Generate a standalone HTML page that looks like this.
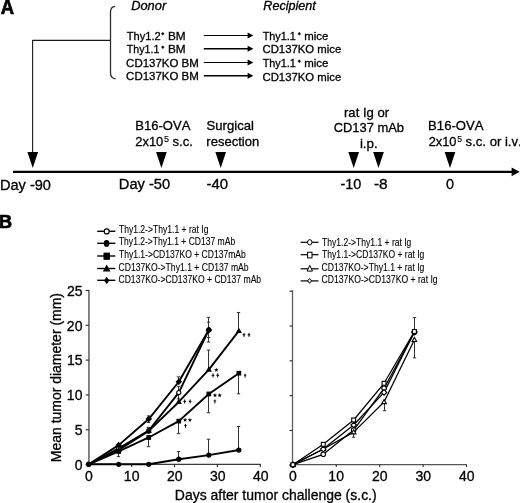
<!DOCTYPE html>
<html><head><meta charset="utf-8"><style>
html,body{margin:0;padding:0;background:#fff;}
svg{display:block;will-change:transform;}
text{font-family:"Liberation Sans",sans-serif;fill:#000;font-kerning:none;stroke:#000;stroke-width:0.3px;}
text.lg{stroke-width:0.1px;}
text.sup{stroke-width:0.1px;}
text.big{stroke-width:0.7px;}
</style></head><body>
<svg width="520" height="503" viewBox="0 0 520 503">
<rect width="520" height="503" fill="#fff"/>
<text x="0.84" y="13.90" font-size="19.5" textLength="13.35" lengthAdjust="spacingAndGlyphs" font-weight="bold" class="big">A</text>
<path d="M32.6 40.4 H110.6 M32.6 40 V153" stroke="#1a1a1a" stroke-width="1.1" fill="none"/>
<path d="M115.2 6.3 Q110.5 6.8 110.5 12 V73 Q110.5 78.2 115.6 78.8" stroke="#2a2a2a" stroke-width="1.25" fill="none"/>
<text x="131.21" y="9.85" font-size="12.2" textLength="34.96" lengthAdjust="spacingAndGlyphs" font-style="italic" >Donor</text>
<text x="263.31" y="9.80" font-size="12.2" textLength="52.55" lengthAdjust="spacingAndGlyphs" font-style="italic" >Recipient</text>
<text x="126.85" y="39.50" font-size="11.3" textLength="33.91" lengthAdjust="spacingAndGlyphs" >Thy1.2</text>
<path d="M161.35 33.70 H164.25 M162.80 32.25 V35.15" stroke="#000" stroke-width="1.2"/>
<text x="167.93" y="39.50" font-size="11.3" textLength="17.74" lengthAdjust="spacingAndGlyphs" >BM</text>
<text x="126.86" y="52.90" font-size="11.3" textLength="32.56" lengthAdjust="spacingAndGlyphs" >Thy1.1</text>
<path d="M161.35 47.20 H164.25 M162.80 45.75 V48.65" stroke="#000" stroke-width="1.2"/>
<text x="167.93" y="52.90" font-size="11.3" textLength="17.74" lengthAdjust="spacingAndGlyphs" >BM</text>
<text x="126.12" y="66.60" font-size="11.3" textLength="72.72" lengthAdjust="spacingAndGlyphs" >CD137KO BM</text>
<text x="126.12" y="80.10" font-size="11.3" textLength="72.72" lengthAdjust="spacingAndGlyphs" >CD137KO BM</text>
<text x="262.66" y="39.60" font-size="11.3" textLength="33.28" lengthAdjust="spacingAndGlyphs" >Thy1.1</text>
<path d="M297.85 33.80 H300.75 M299.30 32.35 V35.25" stroke="#000" stroke-width="1.2"/>
<text x="304.24" y="39.60" font-size="11.3" textLength="24.17" lengthAdjust="spacingAndGlyphs" >mice</text>
<text x="262.52" y="53.00" font-size="11.3" textLength="78.68" lengthAdjust="spacingAndGlyphs" >CD137KO mice</text>
<text x="262.66" y="66.80" font-size="11.3" textLength="33.28" lengthAdjust="spacingAndGlyphs" >Thy1.1</text>
<path d="M297.85 61.20 H300.75 M299.30 59.75 V62.65" stroke="#000" stroke-width="1.2"/>
<text x="304.24" y="66.80" font-size="11.3" textLength="24.17" lengthAdjust="spacingAndGlyphs" >mice</text>
<text x="262.52" y="80.50" font-size="11.3" textLength="78.68" lengthAdjust="spacingAndGlyphs" >CD137KO mice</text>
<path d="M203.8 35.5 H249" stroke="#000" stroke-width="1.0"/>
<path d="M247.6 32.50 L253.4 35.5 L247.6 38.50 Z" fill="#000"/>
<path d="M203.8 48.8 H249" stroke="#000" stroke-width="1.5"/>
<path d="M247.6 45.80 L253.4 48.8 L247.6 51.80 Z" fill="#000"/>
<path d="M203.8 62.5 H249" stroke="#000" stroke-width="1.0"/>
<path d="M247.6 59.50 L253.4 62.5 L247.6 65.50 Z" fill="#000"/>
<path d="M203.8 75.8 H249" stroke="#000" stroke-width="1.5"/>
<path d="M247.6 72.80 L253.4 75.8 L247.6 78.80 Z" fill="#000"/>
<path d="M13 171.8 H513" stroke="#000" stroke-width="2.2"/>
<path d="M511.6 167.5 L519.6 171.8 L511.6 176.3 Z" fill="#000"/>
<path d="M27.40 152.1 L38.10 152.1 L32.75 168.0 Z" fill="#000"/>
<path d="M156.05 152.1 L166.75 152.1 L161.40 168.0 Z" fill="#000"/>
<path d="M215.35 152.1 L226.05 152.1 L220.70 168.0 Z" fill="#000"/>
<path d="M348.35 152.1 L359.05 152.1 L353.70 168.0 Z" fill="#000"/>
<path d="M373.15 152.1 L383.85 152.1 L378.50 168.0 Z" fill="#000"/>
<path d="M444.65 152.1 L455.35 152.1 L450.00 168.0 Z" fill="#000"/>
<text x="-0.05" y="189.80" font-size="14" textLength="51.01" lengthAdjust="spacingAndGlyphs" >Day -90</text>
<text x="118.80" y="188.60" font-size="14" textLength="51.38" lengthAdjust="spacingAndGlyphs" >Day -50</text>
<text x="206.43" y="188.80" font-size="14" textLength="21.65" lengthAdjust="spacingAndGlyphs" >-40</text>
<text x="340.56" y="188.80" font-size="14" textLength="20.80" lengthAdjust="spacingAndGlyphs" >-10</text>
<text x="373.91" y="188.80" font-size="14" textLength="13.76" lengthAdjust="spacingAndGlyphs" >-8</text>
<text x="446.14" y="188.70" font-size="14" textLength="8.03" lengthAdjust="spacingAndGlyphs" >0</text>
<text x="135.33" y="130.00" font-size="13.1" textLength="54.99" lengthAdjust="spacingAndGlyphs" >B16-OVA</text>
<text x="135.35" y="145.80" font-size="13.1" textLength="27.95" lengthAdjust="spacingAndGlyphs" >2x10</text>
<text x="164.14" y="142.00" font-size="8.2" textLength="5.04" lengthAdjust="spacingAndGlyphs" class="sup">5</text>
<text x="172.43" y="145.60" font-size="13.1" textLength="20.47" lengthAdjust="spacingAndGlyphs" >s.c.</text>
<text x="206.61" y="130.00" font-size="13.1" textLength="47.27" lengthAdjust="spacingAndGlyphs" >Surgical</text>
<text x="206.33" y="145.70" font-size="13.1" textLength="52.91" lengthAdjust="spacingAndGlyphs" >resection</text>
<text x="344.03" y="116.60" font-size="13.1" textLength="45.09" lengthAdjust="spacingAndGlyphs" >rat Ig or</text>
<text x="333.64" y="132.30" font-size="13.1" textLength="70.40" lengthAdjust="spacingAndGlyphs" >CD137 mAb</text>
<text x="359.91" y="148.00" font-size="13.1" textLength="17.81" lengthAdjust="spacingAndGlyphs" >i.p.</text>
<text x="428.12" y="130.00" font-size="13.1" textLength="55.40" lengthAdjust="spacingAndGlyphs" >B16-OVA</text>
<text x="428.76" y="145.80" font-size="13.1" textLength="27.74" lengthAdjust="spacingAndGlyphs" >2x10</text>
<text x="457.25" y="141.90" font-size="8.2" textLength="4.81" lengthAdjust="spacingAndGlyphs" class="sup">5</text>
<text x="465.64" y="145.50" font-size="13.1" textLength="56.06" lengthAdjust="spacingAndGlyphs" >s.c. or i.v.</text>
<text x="-0.96" y="227.90" font-size="19.2" textLength="13.08" lengthAdjust="spacingAndGlyphs" font-weight="bold" class="big">B</text>
<path d="M97.2 231.3 H115.3" stroke="#000" stroke-width="1.4"/>
<ellipse cx="106.70" cy="231.40" rx="2.50" ry="2.50" fill="#fff" stroke="#000" stroke-width="1.2"/>
<text x="118.91" y="233.20" font-size="10.1" textLength="89.54" lengthAdjust="spacingAndGlyphs" class="lg">Thy1.2-&gt;Thy1.1 + rat Ig</text>
<path d="M97.2 243.3 H115.3" stroke="#000" stroke-width="1.4"/>
<ellipse cx="106.60" cy="243.40" rx="2.25" ry="2.80" fill="#000" stroke="#000" stroke-width="1.2"/>
<text x="118.91" y="245.30" font-size="10.1" textLength="116.25" lengthAdjust="spacingAndGlyphs" class="lg">Thy1.2-&gt;Thy1.1 + CD137 mAb</text>
<path d="M97.2 256.0 H115.3" stroke="#000" stroke-width="1.4"/>
<rect x="104.10" y="253.20" width="5.20" height="6.00" fill="#000" stroke="#000" stroke-width="1.2"/>
<text x="118.91" y="258.40" font-size="10.1" textLength="126.85" lengthAdjust="spacingAndGlyphs" class="lg">Thy1.1-&gt;CD137KO + CD137mAb</text>
<path d="M97.2 268.5 H115.3" stroke="#000" stroke-width="1.4"/>
<path d="M106.70 265.78 L109.56 270.90 L103.84 270.90 Z" fill="#000" stroke="#000" stroke-width="1.2"/>
<text x="118.46" y="270.80" font-size="10.1" textLength="130.20" lengthAdjust="spacingAndGlyphs" class="lg">CD137KO-&gt;Thy1.1 + CD137 mAb</text>
<path d="M97.2 280.3 H115.3" stroke="#000" stroke-width="1.4"/>
<path d="M106.70 277.79 L108.71 280.40 L106.70 283.01 L104.69 280.40 Z" fill="#000" stroke="#000" stroke-width="1.2"/>
<text x="118.46" y="282.60" font-size="10.1" textLength="142.70" lengthAdjust="spacingAndGlyphs" class="lg">CD137KO-&gt;CD137KO + CD137 mAb</text>
<path d="M300.6 242.3 H318.5" stroke="#000" stroke-width="1.2"/>
<ellipse cx="309.80" cy="242.30" rx="2.20" ry="2.70" fill="#fff" stroke="#000" stroke-width="1.0"/>
<text x="322.11" y="245.80" font-size="10.1" textLength="89.24" lengthAdjust="spacingAndGlyphs" class="lg">Thy1.2-&gt;Thy1.1 + rat Ig</text>
<path d="M300.6 254.7 H318.5" stroke="#000" stroke-width="1.2"/>
<rect x="307.60" y="252.20" width="4.40" height="5.70" fill="#fff" stroke="#000" stroke-width="1.0"/>
<text x="322.11" y="257.90" font-size="10.1" textLength="102.24" lengthAdjust="spacingAndGlyphs" class="lg">Thy1.1-&gt;CD137KO + rat Ig</text>
<path d="M300.6 268.8 H318.5" stroke="#000" stroke-width="1.2"/>
<path d="M309.80 265.30 L312.45 271.10 L307.15 271.10 Z" fill="#fff" stroke="#000" stroke-width="1.0"/>
<text x="321.56" y="270.60" font-size="10.1" textLength="102.79" lengthAdjust="spacingAndGlyphs" class="lg">CD137KO-&gt;Thy1.1 + rat Ig</text>
<path d="M300.6 280.9 H318.5" stroke="#000" stroke-width="1.2"/>
<path d="M309.60 278.50 L311.50 280.90 L309.60 283.30 L307.70 280.90 Z" fill="#fff" stroke="#000" stroke-width="1.0"/>
<text x="321.56" y="283.30" font-size="10.1" textLength="116.09" lengthAdjust="spacingAndGlyphs" class="lg">CD137KO-&gt;CD137KO + rat Ig</text>
<path d="M88.95 289.88 V464.40" stroke="#4d4d4d" stroke-width="1.35" fill="none"/>
<path d="M88.35 464.40 H260.70" stroke="#3c3c3c" stroke-width="1.3" fill="none"/>
<path d="M85.65 464.60 H88.95" stroke="#2e2e2e" stroke-width="1.15"/>
<path d="M85.65 429.78 H88.95" stroke="#2e2e2e" stroke-width="1.15"/>
<path d="M85.65 394.95 H88.95" stroke="#2e2e2e" stroke-width="1.15"/>
<path d="M85.65 360.13 H88.95" stroke="#2e2e2e" stroke-width="1.15"/>
<path d="M85.65 325.30 H88.95" stroke="#2e2e2e" stroke-width="1.15"/>
<path d="M85.65 290.48 H88.95" stroke="#2e2e2e" stroke-width="1.15"/>
<path d="M131.60 464.3 V467.10" stroke="#2e2e2e" stroke-width="1.15"/>
<path d="M174.50 464.3 V467.10" stroke="#2e2e2e" stroke-width="1.15"/>
<path d="M217.40 464.3 V467.10" stroke="#2e2e2e" stroke-width="1.15"/>
<path d="M260.30 464.3 V467.10" stroke="#2e2e2e" stroke-width="1.15"/>
<path d="M292.5 290.27 V464.80" stroke="#5e5e5e" stroke-width="1.3" fill="none"/>
<path d="M291.90 464.70 H466.90" stroke="#555" stroke-width="1.25" fill="none"/>
<path d="M289.50 465.30 H292.5" stroke="#2e2e2e" stroke-width="1.15"/>
<path d="M289.50 430.48 H292.5" stroke="#2e2e2e" stroke-width="1.15"/>
<path d="M289.50 395.65 H292.5" stroke="#2e2e2e" stroke-width="1.15"/>
<path d="M289.50 360.83 H292.5" stroke="#2e2e2e" stroke-width="1.15"/>
<path d="M289.50 326.00 H292.5" stroke="#2e2e2e" stroke-width="1.15"/>
<path d="M289.50 291.18 H292.5" stroke="#2e2e2e" stroke-width="1.15"/>
<path d="M336.30 464.7 V467.10" stroke="#2e2e2e" stroke-width="1.1"/>
<path d="M379.70 464.7 V467.10" stroke="#2e2e2e" stroke-width="1.1"/>
<path d="M423.10 464.7 V467.10" stroke="#2e2e2e" stroke-width="1.1"/>
<path d="M466.50 464.7 V467.10" stroke="#2e2e2e" stroke-width="1.1"/>
<text x="74.66" y="469.90" font-size="14">0</text>
<text x="74.70" y="435.08" font-size="14">5</text>
<text x="66.87" y="400.25" font-size="14">10</text>
<text x="66.92" y="365.43" font-size="14">15</text>
<text x="66.87" y="330.60" font-size="14">20</text>
<text x="66.92" y="295.78" font-size="14">25</text>
<text x="85.11" y="481.20" font-size="14" >0</text>
<text x="289.11" y="481.20" font-size="14" >0</text>
<text x="123.85" y="481.20" font-size="14" >10</text>
<text x="328.35" y="481.20" font-size="14" >10</text>
<text x="166.94" y="481.20" font-size="14" >20</text>
<text x="371.94" y="481.20" font-size="14" >20</text>
<text x="209.92" y="481.20" font-size="14" >30</text>
<text x="415.42" y="481.20" font-size="14" >30</text>
<text x="252.93" y="481.20" font-size="14" >40</text>
<text x="458.93" y="481.20" font-size="14" >40</text>
<text x="174.85" y="499.80" font-size="14" textLength="201.81" lengthAdjust="spacingAndGlyphs" >Days after tumor challenge (s.c.)</text>
<text transform="translate(60.9 461.0) rotate(-90)" x="-1.15" y="0" font-size="14" textLength="169.11" lengthAdjust="spacingAndGlyphs">Mean tumor diameter (mm)</text>
<path d="M148.50 430.52 V427.73 M146.80 427.73 H150.20" stroke="#333333" stroke-width="1"/>
<path d="M148.50 430.52 V433.31 M146.80 433.31 H150.20" stroke="#333333" stroke-width="1"/>
<path d="M178.50 392.56 V386.29 M176.80 386.29 H180.20" stroke="#333333" stroke-width="1"/>
<path d="M178.50 392.56 V398.83 M176.80 398.83 H180.20" stroke="#333333" stroke-width="1"/>
<path d="M208.50 329.88 V322.21 M206.80 322.21 H210.20" stroke="#333333" stroke-width="1"/>
<path d="M208.50 329.88 V337.54 M206.80 337.54 H210.20" stroke="#333333" stroke-width="1"/>
<path d="M178.50 459.22 V451.55 M176.80 451.55 H180.20" stroke="#333333" stroke-width="1"/>
<path d="M208.50 455.11 V439.23 M206.80 439.23 H210.20" stroke="#333333" stroke-width="1"/>
<path d="M238.50 450.02 V426.48 M236.80 426.48 H240.20" stroke="#333333" stroke-width="1"/>
<path d="M118.50 451.41 V456.64 M116.80 456.64 H120.20" stroke="#333333" stroke-width="1"/>
<path d="M148.50 437.48 V446.68 M146.80 446.68 H150.20" stroke="#333333" stroke-width="1"/>
<path d="M178.50 421.12 V433.65 M176.80 433.65 H180.20" stroke="#333333" stroke-width="1"/>
<path d="M208.50 393.95 V412.76 M206.80 412.76 H210.20" stroke="#333333" stroke-width="1"/>
<path d="M238.50 373.20 V393.81 M236.80 393.81 H240.20" stroke="#333333" stroke-width="1"/>
<path d="M148.50 430.87 V427.39 M146.80 427.39 H150.20" stroke="#333333" stroke-width="1"/>
<path d="M178.50 401.96 V393.61 M176.80 393.61 H180.20" stroke="#333333" stroke-width="1"/>
<path d="M208.50 369.58 V350.07 M206.80 350.07 H210.20" stroke="#333333" stroke-width="1"/>
<path d="M238.50 330.92 V312.46 M236.80 312.46 H240.20" stroke="#333333" stroke-width="1"/>
<path d="M148.50 419.03 V415.89 M146.80 415.89 H150.20" stroke="#333333" stroke-width="1"/>
<path d="M148.50 419.03 V422.51 M146.80 422.51 H150.20" stroke="#333333" stroke-width="1"/>
<path d="M178.50 381.76 V376.89 M176.80 376.89 H180.20" stroke="#333333" stroke-width="1"/>
<path d="M208.50 329.88 V317.34 M206.80 317.34 H210.20" stroke="#333333" stroke-width="1"/>
<path d="M208.50 329.88 V342.06 M206.80 342.06 H210.20" stroke="#333333" stroke-width="1"/>
<polyline points="88.70,464.30 118.73,448.28 148.76,430.52 178.79,392.56 208.82,329.88" fill="none" stroke="#000" stroke-width="1.9" stroke-linejoin="round"/>
<polyline points="88.70,464.30 118.73,464.30 148.76,464.30 178.79,459.22 208.82,455.11 238.85,450.02" fill="none" stroke="#000" stroke-width="1.9" stroke-linejoin="round"/>
<polyline points="88.70,464.30 118.73,451.41 148.76,437.48 178.79,421.12 208.82,393.95 238.85,373.20" fill="none" stroke="#000" stroke-width="1.9" stroke-linejoin="round"/>
<polyline points="88.70,464.30 118.73,450.02 148.76,430.87 178.79,401.96 208.82,369.58 238.85,330.92" fill="none" stroke="#000" stroke-width="1.9" stroke-linejoin="round"/>
<polyline points="88.70,464.30 118.73,445.15 148.76,419.03 178.79,381.76 208.82,329.88" fill="none" stroke="#000" stroke-width="1.9" stroke-linejoin="round"/>
<circle cx="118.73" cy="448.28" r="2.07" fill="#fff" stroke="#000" stroke-width="1.1"/>
<circle cx="148.76" cy="430.52" r="2.07" fill="#fff" stroke="#000" stroke-width="1.1"/>
<circle cx="178.79" cy="392.56" r="2.07" fill="#fff" stroke="#000" stroke-width="1.1"/>
<circle cx="208.82" cy="329.88" r="2.07" fill="#fff" stroke="#000" stroke-width="1.1"/>
<rect x="116.94" y="449.62" width="3.59" height="3.59" fill="#000" stroke="#000" stroke-width="1.1"/>
<rect x="146.97" y="435.69" width="3.59" height="3.59" fill="#000" stroke="#000" stroke-width="1.1"/>
<rect x="177.00" y="419.32" width="3.59" height="3.59" fill="#000" stroke="#000" stroke-width="1.1"/>
<rect x="207.03" y="392.16" width="3.59" height="3.59" fill="#000" stroke="#000" stroke-width="1.1"/>
<rect x="237.06" y="371.40" width="3.59" height="3.59" fill="#000" stroke="#000" stroke-width="1.1"/>
<path d="M118.73 447.80 L120.85 451.55 L116.61 451.55 Z" fill="#000" stroke="#000" stroke-width="1.1" stroke-linejoin="miter"/>
<path d="M148.76 428.65 L150.88 432.39 L146.64 432.39 Z" fill="#000" stroke="#000" stroke-width="1.1" stroke-linejoin="miter"/>
<path d="M178.79 399.74 L180.91 403.49 L176.67 403.49 Z" fill="#000" stroke="#000" stroke-width="1.1" stroke-linejoin="miter"/>
<path d="M208.82 367.35 L210.94 371.10 L206.70 371.10 Z" fill="#000" stroke="#000" stroke-width="1.1" stroke-linejoin="miter"/>
<path d="M238.85 328.70 L240.97 332.44 L236.73 332.44 Z" fill="#000" stroke="#000" stroke-width="1.1" stroke-linejoin="miter"/>
<path d="M118.73 442.62 L121.26 445.15 L118.73 447.68 L116.20 445.15 Z" fill="#000" stroke="#000" stroke-width="1.1"/>
<path d="M148.76 416.50 L151.29 419.03 L148.76 421.56 L146.23 419.03 Z" fill="#000" stroke="#000" stroke-width="1.1"/>
<path d="M178.79 379.23 L181.32 381.76 L178.79 384.29 L176.26 381.76 Z" fill="#000" stroke="#000" stroke-width="1.1"/>
<path d="M208.82 327.35 L211.35 329.88 L208.82 332.41 L206.29 329.88 Z" fill="#000" stroke="#000" stroke-width="1.1"/>
<circle cx="88.70" cy="464.30" r="2.25" fill="#000" stroke="#000" stroke-width="1.1"/>
<circle cx="118.73" cy="464.30" r="2.07" fill="#000" stroke="#000" stroke-width="1.1"/>
<circle cx="148.76" cy="464.30" r="2.07" fill="#000" stroke="#000" stroke-width="1.1"/>
<circle cx="178.79" cy="459.22" r="2.07" fill="#000" stroke="#000" stroke-width="1.1"/>
<circle cx="208.82" cy="455.11" r="2.07" fill="#000" stroke="#000" stroke-width="1.1"/>
<circle cx="238.85" cy="450.02" r="2.07" fill="#000" stroke="#000" stroke-width="1.1"/>
<path d="M414.50 331.53 V317.60 M412.80 317.60 H416.20" stroke="#333333" stroke-width="1"/>
<path d="M353.50 432.17 V437.19 M351.80 437.19 H355.20" stroke="#333333" stroke-width="1"/>
<path d="M384.50 402.01 V410.72 M382.80 410.72 H386.20" stroke="#333333" stroke-width="1"/>
<path d="M414.50 339.82 V357.93 M412.80 357.93 H416.20" stroke="#333333" stroke-width="1"/>
<polyline points="292.90,464.70 323.28,454.32 353.66,430.01 384.04,388.29 414.42,332.37" fill="none" stroke="#000" stroke-width="1.25" stroke-linejoin="round"/>
<polyline points="292.90,464.70 323.28,444.29 353.66,419.98 384.04,383.28 414.42,331.53" fill="none" stroke="#000" stroke-width="1.25" stroke-linejoin="round"/>
<polyline points="292.90,464.70 323.28,449.03 353.66,432.17 384.04,402.01 414.42,339.82" fill="none" stroke="#000" stroke-width="1.25" stroke-linejoin="round"/>
<polyline points="292.90,464.70 323.28,449.03 353.66,425.00 384.04,392.40 414.42,331.88" fill="none" stroke="#000" stroke-width="1.25" stroke-linejoin="round"/>
<circle cx="292.90" cy="464.70" r="2.25" fill="#fff" stroke="#000" stroke-width="1.1"/>
<circle cx="323.28" cy="454.32" r="2.25" fill="#fff" stroke="#000" stroke-width="1.1"/>
<circle cx="353.66" cy="430.01" r="2.25" fill="#fff" stroke="#000" stroke-width="1.1"/>
<circle cx="384.04" cy="388.29" r="2.25" fill="#fff" stroke="#000" stroke-width="1.1"/>
<circle cx="414.42" cy="332.37" r="2.25" fill="#fff" stroke="#000" stroke-width="1.1"/>
<path d="M292.90 462.28 L295.20 466.36 L290.60 466.36 Z" fill="#fff" stroke="#000" stroke-width="1.1" stroke-linejoin="miter"/>
<path d="M323.28 446.61 L325.58 450.68 L320.98 450.68 Z" fill="#fff" stroke="#000" stroke-width="1.1" stroke-linejoin="miter"/>
<path d="M353.66 429.76 L355.96 433.83 L351.36 433.83 Z" fill="#fff" stroke="#000" stroke-width="1.1" stroke-linejoin="miter"/>
<path d="M384.04 399.60 L386.34 403.67 L381.74 403.67 Z" fill="#fff" stroke="#000" stroke-width="1.1" stroke-linejoin="miter"/>
<path d="M414.42 337.40 L416.72 341.47 L412.12 341.47 Z" fill="#fff" stroke="#000" stroke-width="1.1" stroke-linejoin="miter"/>
<path d="M292.90 461.95 L295.65 464.70 L292.90 467.45 L290.15 464.70 Z" fill="#fff" stroke="#000" stroke-width="1.1"/>
<path d="M323.28 446.28 L326.03 449.03 L323.28 451.78 L320.53 449.03 Z" fill="#fff" stroke="#000" stroke-width="1.1"/>
<path d="M353.66 422.25 L356.41 425.00 L353.66 427.75 L350.91 425.00 Z" fill="#fff" stroke="#000" stroke-width="1.1"/>
<path d="M384.04 389.65 L386.79 392.40 L384.04 395.15 L381.29 392.40 Z" fill="#fff" stroke="#000" stroke-width="1.1"/>
<path d="M414.42 329.13 L417.17 331.88 L414.42 334.63 L411.67 331.88 Z" fill="#fff" stroke="#000" stroke-width="1.1"/>
<rect x="290.95" y="462.75" width="3.90" height="3.90" fill="#fff" stroke="#000" stroke-width="1.1"/>
<rect x="321.33" y="442.34" width="3.90" height="3.90" fill="#fff" stroke="#000" stroke-width="1.1"/>
<rect x="351.71" y="418.03" width="3.90" height="3.90" fill="#fff" stroke="#000" stroke-width="1.1"/>
<rect x="382.09" y="381.33" width="3.90" height="3.90" fill="#fff" stroke="#000" stroke-width="1.1"/>
<rect x="412.47" y="329.58" width="3.90" height="3.90" fill="#fff" stroke="#000" stroke-width="1.1"/>
<path d="M184.70 399.50 V403.50 M183.35 401.40 H186.05" stroke="#000" stroke-width="1.0"/>
<path d="M190.10 399.50 V403.50 M188.75 401.40 H191.45" stroke="#000" stroke-width="1.0"/>
<polygon points="185.10,417.70 185.67,419.22 187.29,419.29 186.02,420.30 186.45,421.86 185.10,420.97 183.75,421.86 184.18,420.30 182.91,419.29 184.53,419.22" fill="#000"/>
<polygon points="189.90,417.70 190.47,419.22 192.09,419.29 190.82,420.30 191.25,421.86 189.90,420.97 188.55,421.86 188.98,420.30 187.71,419.29 189.33,419.22" fill="#000"/>
<path d="M185.50 423.90 V427.90 M184.20 425.40 H186.80" stroke="#000" stroke-width="0.9"/>
<polygon points="216.30,367.70 216.87,369.22 218.49,369.29 217.22,370.30 217.65,371.86 216.30,370.97 214.95,371.86 215.38,370.30 214.11,369.29 215.73,369.22" fill="#000"/>
<path d="M213.00 373.40 V377.40 M211.65 375.30 H214.35" stroke="#000" stroke-width="1.0"/>
<path d="M217.70 373.40 V377.40 M216.35 375.30 H219.05" stroke="#000" stroke-width="1.0"/>
<polygon points="215.00,393.10 215.57,394.62 217.19,394.69 215.92,395.70 216.35,397.26 215.00,396.37 213.65,397.26 214.08,395.70 212.81,394.69 214.43,394.62" fill="#000"/>
<polygon points="219.70,393.10 220.27,394.62 221.89,394.69 220.62,395.70 221.05,397.26 219.70,396.37 218.35,397.26 218.78,395.70 217.51,394.69 219.13,394.62" fill="#000"/>
<path d="M214.90 399.50 V403.50 M213.60 401.00 H216.20" stroke="#000" stroke-width="0.9"/>
<path d="M244.00 332.90 V336.90 M242.65 334.80 H245.35" stroke="#000" stroke-width="1.0"/>
<path d="M249.00 332.90 V336.90 M247.65 334.80 H250.35" stroke="#000" stroke-width="1.0"/>
<path d="M245.10 373.70 V377.70 M243.80 375.20 H246.40" stroke="#000" stroke-width="0.9"/>
</svg>
</body></html>
